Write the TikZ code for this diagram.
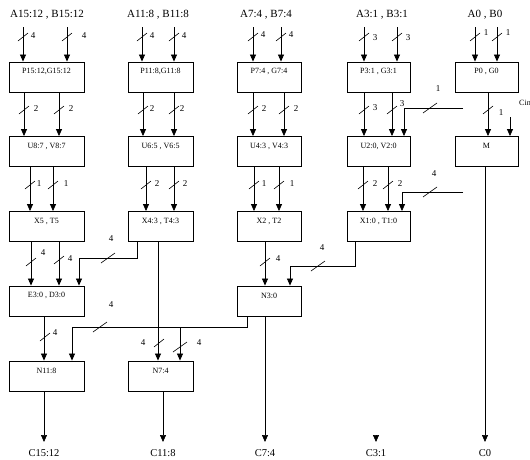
\documentclass[tikz,border=0pt]{standalone}
\usepackage{fontspec}
\setmainfont{Liberation Serif}
\usetikzlibrary{arrows.meta}
\begin{document}
\begin{tikzpicture}[x=1pt,y=-1pt,
 box/.style={draw, line width=0.9pt, minimum width=#1, minimum height=30pt, inner sep=0pt},
 btxt/.style={font=\fontsize{8}{9}\selectfont, inner sep=0pt},
 io/.style={font=\fontsize{11}{12}\selectfont, inner sep=0pt},
 outl/.style={font=\fontsize{10.5}{12}\selectfont, inner sep=0pt},
 num/.style={font=\fontsize{9}{10}\selectfont, inner sep=0pt},
 arr/.style={line width=0.7pt, -{Triangle[length=7pt,width=6pt]}},
 ln/.style={line width=0.7pt},
 bus/.pic={\draw[line width=0.6pt] (-5,4) -- (5,-4);},
 busL/.pic={\draw[line width=0.6pt] (-7,5) -- (7,-5);}
]
\useasboundingbox (0,0) rectangle (530,459);

% ---------- input labels ----------
\node[io] (in1) at (47,15) {A15:12 , B15:12};
\node[io] (in2) at (158,15) {A11:8 , B11:8};
\node[io] (in3) at (266,15) {A7:4 , B7:4};
\node[io] (in4) at (382,15) {A3:1 , B3:1};
\node[io] (in5) at (485,15) {A0 , B0};

% ---------- boxes ----------
\node[box=75pt] (p1) at (46.5,77) {};
\node[box=65pt] (p2) at (160.5,77) {};
\node[box=64pt] (p3) at (269,77) {};
\node[box=63pt] (p4) at (378.5,77) {};
\node[box=63pt] (p5) at (486.5,77) {};
\node[box=75pt] (u1) at (46.5,151.5) {};
\node[box=65pt] (u2) at (160.5,151.5) {};
\node[box=64pt] (u3) at (269,151.5) {};
\node[box=63pt] (u4) at (378.5,151.5) {};
\node[box=63pt] (m) at (486.5,151.5) {};
\node[box=75pt] (x1) at (46.5,226.5) {};
\node[box=65pt] (x2) at (160.5,226.5) {};
\node[box=64pt] (x3) at (269,226.5) {};
\node[box=63pt] (x4) at (378.5,226.5) {};
\node[box=75pt] (e1) at (46.5,301) {};
\node[box=64pt] (n3) at (269,301) {};
\node[box=75pt] (n11) at (46.5,376) {};
\node[box=65pt] (n7) at (160.5,376) {};

\node[btxt] (tp1) at ([yshift=-10pt]p1.north) {P15:12,G15:12};
\node[btxt] (tp2) at ([yshift=-10pt]p2.north) {P11:8,G11:8};
\node[btxt] (tp3) at ([yshift=-10pt]p3.north) {P7:4 , G7:4};
\node[btxt] (tp4) at ([yshift=-10pt]p4.north) {P3:1 , G3:1};
\node[btxt] (tp5) at ([yshift=-10pt]p5.north) {P0 , G0};
\node[btxt] (tu1) at ([yshift=-10pt]u1.north) {U8:7 , V8:7};
\node[btxt] (tu2) at ([yshift=-10pt]u2.north) {U6:5 , V6:5};
\node[btxt] (tu3) at ([yshift=-10pt]u3.north) {U4:3 , V4:3};
\node[btxt] (tu4) at ([yshift=-10pt]u4.north) {U2:0, V2:0};
\node[btxt] (tm) at ([yshift=-10pt]m.north) {M};
\node[btxt] (tx1) at ([yshift=-10pt]x1.north) {X5 , T5};
\node[btxt] (tx2) at ([yshift=-10pt]x2.north) {X4:3 , T4:3};
\node[btxt] (tx3) at ([yshift=-10pt]x3.north) {X2 , T2};
\node[btxt] (tx4) at ([yshift=-10pt]x4.north) {X1:0 , T1:0};
\node[btxt] (te1) at ([yshift=-10pt]e1.north) {E3:0 , D3:0};
\node[btxt] (tn3) at ([yshift=-10pt]n3.north) {N3:0};
\node[btxt] (tn11) at ([yshift=-10pt]n11.north) {N11:8};
\node[btxt] (tn7) at ([yshift=-10pt]n7.north) {N7:4};

% ---------- outputs ----------
\node[outl] (o1) at (44,453) {C15:12};
\node[outl] (o2) at (163,453) {C11:8};
\node[outl] (o3) at (265,453) {C7:4};
\node[outl] (o4) at (376,453) {C3:1};
\node[outl] (o5) at (485,453) {C0};
\node[btxt, anchor=west] (cin) at (519,103) {Cin};

% ---------- free-end coordinates ----------
\coordinate (r1) at (463,108);
\coordinate (r2) at (463,192);
\coordinate (cinS) at (510,117);

% ---------- row 1 inputs ----------
\foreach \xx/\bx in {23/p1,67/p1,142/p2,174/p2,253/p3,281/p3,364/p4,397/p4,475/p5,497/p5}{
  \draw[arr] (\xx,27) -- (\bx.north -| \xx,0);
  \pic at (\xx,37) {bus};
}
\node[num] (l11) at (33,36) {4};
\node[num] (l12) at (84,36) {4};
\node[num] (l13) at (152,36) {4};
\node[num] (l14) at (184,36) {4};
\node[num] (l15) at (263,35) {4};
\node[num] (l16) at (291,35) {4};
\node[num] (l17) at (375,38) {3};
\node[num] (l18) at (408,38) {3};
\node[num] (l19) at (486,33) {1};
\node[num] (l10) at (508,33) {1};

% ---------- row 1 -> row 2 ----------
\foreach \xx/\ax/\bx in {24/p1/u1,59/p1/u1,143/p2/u2,174/p2/u2,253/p3/u3,284/p3/u3,364/p4/u4,392/p4/u4,488/p5/m}{
  \draw[arr] (\ax.south -| \xx,0) -- (\bx.north -| \xx,0);
  \pic at (\xx,110) {bus};
}
\node[num] (l21) at (36,109) {2};
\node[num] (l22) at (71,109) {2};
\node[num] (l23) at (152,109) {2};
\node[num] (l24) at (182,109) {2};
\node[num] (l25) at (264,109) {2};
\node[num] (l26) at (296,109) {2};
\node[num] (l27) at (375,108) {3};
\node[num] (l28) at (402,104) {3};
\node[num] (l29) at (501,113) {1};
\draw[arr] (r1) -| (u4.north -| 404,0);
\pic at (430,108) {busL};
\node[num] (l2a) at (438,89) {1};
\draw[arr] (cinS) -- (m.north -| 510,0);

% ---------- row 2 -> row 3 ----------
\foreach \xx/\ax/\bx in {30/u1/x1,53/u1/x1,146/u2/x2,174/u2/x2,254/u3/x3,279/u3/x3,363/u4/x4,388/u4/x4}{
  \draw[arr] (\ax.south -| \xx,0) -- (\bx.north -| \xx,0);
  \pic at (\xx,185) {bus};
}
\node[num] (l31) at (39,184) {1};
\node[num] (l32) at (66,184) {1};
\node[num] (l33) at (157,184) {2};
\node[num] (l34) at (185,184) {2};
\node[num] (l35) at (264,184) {1};
\node[num] (l36) at (292,184) {1};
\node[num] (l37) at (375,184) {2};
\node[num] (l38) at (400,184) {2};
\draw[arr] (r2) -| (x4.north -| 402,0);
\pic at (430,192) {busL};
\node[num] (l3a) at (434,174) {4};

% ---------- row 3 -> row 4 ----------
\draw[arr] (x1.south -| 31,0) -- (e1.north -| 31,0);
\pic at (31,262) {bus};
\draw[arr] (x1.south -| 59,0) -- (e1.north -| 59,0);
\pic at (59,260) {bus};
\node[num] (l41) at (43,253) {4};
\node[num] (l42) at (70,259) {4};
\draw[arr] (x2.south -| 137,0) |- (79,258) -- (e1.north -| 79,0);
\pic at (108,258) {busL};
\node[num] (l43) at (111,239) {4};
\draw[arr] (x3.south -| 265,0) -- (n3.north -| 265,0);
\pic at (265,262) {bus};
\node[num] (l44) at (278,259) {4};
\draw[arr] (x4.south -| 355,0) |- (290,266) -- (n3.north -| 290,0);
\pic at (318,266) {busL};
\node[num] (l45) at (322,248) {4};

% ---------- row 4 -> row 5 ----------
\draw[arr] (x2.south -| 158,0) -- (n7.north -| 158,0);
\pic at (159,343) {bus};
\node[num] (l51) at (143,343) {4};
\draw[arr] (n3.south -| 247,0) |- (72,327) -- (n11.north -| 72,0);
\pic at (100,327) {busL};
\node[num] (l52) at (111,305) {4};
\draw[arr] (180,327) -- (n7.north -| 180,0);
\pic at (180,347) {busL};
\node[num] (l53) at (199,343) {4};
\draw[arr] (e1.south -| 44,0) -- (n11.north -| 44,0);
\pic at (45,337) {bus};
\node[num] (l54) at (55,333) {4};

% ---------- outputs ----------
\draw[arr] (n11.south -| 44,0) -- (o1.north |- 0,442);
\draw[arr] (n7.south -| 163,0) -- (o2.north |- 0,442);
\draw[arr] (n3.south -| 265,0) -- (o3.north |- 0,442);
\draw[arr] (376,435) -- (o4.north |- 0,442);
\draw[arr] (m.south -| 485,0) -- (o5.north |- 0,442);
\end{tikzpicture}
\end{document}
